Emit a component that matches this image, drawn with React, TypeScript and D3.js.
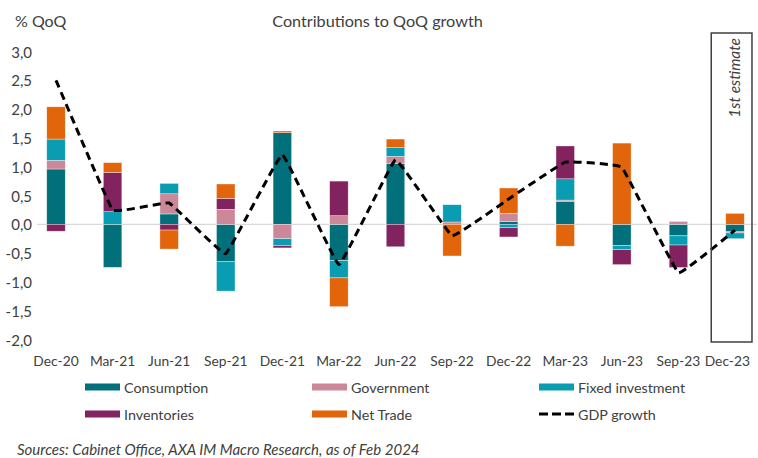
import React from "react";
import * as d3 from "d3";

const categories = ["Dec-20","Mar-21","Jun-21","Sep-21","Dec-21","Mar-22","Jun-22","Sep-22","Dec-22","Mar-23","Jun-23","Sep-23","Dec-23"];
const consumption = [0.96,-0.75,0.18,-0.65,1.59,-0.63,1.06,0.0,0.05,0.40,-0.37,-0.20,-0.13];
const government = [0.15,-0.01,0.35,0.26,-0.25,0.15,0.12,0.04,0.14,0.02,0.0,0.05,-0.02];
const fixedInvestment = [0.37,0.22,0.18,-0.51,-0.12,-0.30,0.15,0.30,-0.06,0.37,-0.07,-0.16,-0.10];
const inventories = [-0.12,0.68,-0.10,0.19,-0.04,0.60,-0.39,0.0,-0.16,0.57,-0.26,-0.39,0.0];
const netTrade = [0.56,0.17,-0.33,0.25,0.03,-0.50,0.15,-0.55,0.44,-0.38,1.41,0.0,0.19];
const gdpGrowth = [2.5,0.25,0.37,-0.51,1.21,-0.70,1.12,-0.20,0.44,1.08,0.99,-0.84,-0.10];
const yTicks = [3,2.5,2,1.5,1,0.5,0,-0.5,-1,-1.5,-2];

const seriesNames = ["Consumption","Government","Fixed investment","Inventories","Net Trade"];
const seriesValues = [consumption, government, fixedInvestment, inventories, netTrade];
const seriesColors = ["#02707B","#CC8799","#0A9DB2","#82225F","#E2650C"];

const W = 758, H = 458;
const FONT = "Lato, 'Open Sans', sans-serif";
const TXT = "#404040";

export default function App() {
  const x = d3.scalePoint<string>().domain(categories).range([56, 735]);
  const y = d3.scaleLinear().domain([-2, 3]).range([339.5, 51.5]);
  const step = x.step();
  const bw = 18.5;

  const rows = categories.map((c, i) => {
    const r: any = { cat: c };
    seriesNames.forEach((n, k) => (r[n] = seriesValues[k][i]));
    return r;
  });
  const stacked = d3.stack<any>().keys(seriesNames).offset(d3.stackOffsetDiverging)(rows);

  const line = d3
    .line<number>()
    .x((_, i) => x(categories[i]) as number)
    .y((d) => y(d))
    .curve(d3.curveCardinal.tension(0.82));

  const last = categories[categories.length - 1];
  const boxL = (x(last) as number) - step * 0.42;
  const boxR = (x(last) as number) + step * 0.3;
  const boxTop = y(3) - 18.5;
  const boxBot = y(-2) + 2.5;

  const fmt = (v: number) => d3.format(".1f")(v).replace(".", ",").replace("−", "-");

  const legend = [
    { name: "Consumption", color: seriesColors[0], type: "bar" },
    { name: "Government", color: seriesColors[1], type: "bar" },
    { name: "Fixed investment", color: seriesColors[2], type: "bar" },
    { name: "Inventories", color: seriesColors[3], type: "bar" },
    { name: "Net Trade", color: seriesColors[4], type: "bar" },
    { name: "GDP growth", color: "#000", type: "line" },
  ];
  const legX = [85, 312, 539];
  const legY = [387, 414];

  return (
    <svg width={W} height={H} style={{ position: "absolute", left: 0, top: 0, background: "#fff" }} fontFamily={FONT}>
      <text x={15} y={20} fontSize={16} fill={TXT} dominantBaseline="central">% QoQ</text>
      <text x={377.5} y={20} fontSize={16.2} fill={TXT} textAnchor="middle" dominantBaseline="central">Contributions to QoQ growth</text>

      {yTicks.map((t) => (
        <text key={t} x={32} y={y(t)} fontSize={15} fill={TXT} textAnchor="end" dominantBaseline="central">{fmt(t)}</text>
      ))}

      <line x1={37} x2={757} y1={y(0)} y2={y(0)} stroke="#D9D9D9" strokeWidth={1.2} />

      {stacked.map((s, k) => (
        <g key={s.key} fill={seriesColors[k]}>
          {s.map((d, i) => {
            const y0 = y(d[0]), y1 = y(d[1]);
            const h = Math.abs(y0 - y1);
            if (h < 0.01) return null;
            return (
              <rect key={i} x={(x(categories[i]) as number) - bw / 2} y={Math.min(y0, y1)} width={bw} height={h}
                stroke="#ffffff" strokeOpacity={0.6} strokeWidth={0.6} />
            );
          })}
        </g>
      ))}

      <path d={line(gdpGrowth) || ""} fill="none" stroke="#000" strokeWidth={3} strokeDasharray="8,5" />

      <rect x={boxL} y={boxTop} width={boxR - boxL} height={boxBot - boxTop} fill="none" stroke="#404040" strokeWidth={1.5} />
      <text transform={`translate(${(boxL + boxR) / 2 + 2},${boxTop + 5}) rotate(-90)`} fontSize={15.5} fontStyle="italic" fill={TXT} textAnchor="end" dominantBaseline="central">1st estimate</text>

      {categories.map((c, i) => {
        const isLast = i === categories.length - 1;
        return (
          <text key={c} x={isLast ? 750 : x(c)} y={360} fontSize={13.8} fill={TXT}
            textAnchor={isLast ? "end" : "middle"} dominantBaseline="central">{c}</text>
        );
      })}

      {legend.map((l, i) => {
        const lx = legX[i % 3];
        const ly = legY[Math.floor(i / 3)];
        return (
          <g key={l.name}>
            {l.type === "bar" ? (
              <rect x={lx} y={ly - 3.5} width={35} height={7} fill={l.color} />
            ) : (
              <line x1={lx} x2={lx + 35} y1={ly} y2={ly} stroke="#000" strokeWidth={3} strokeDasharray="9,4" />
            )}
            <text x={lx + 39} y={ly} fontSize={14.3} fill={TXT} dominantBaseline="central">{l.name}</text>
          </g>
        );
      })}

      <text x={17} y={449} fontSize={15} fontStyle="italic" fill={TXT} dominantBaseline="central">Sources: Cabinet Office, AXA IM Macro Research, as of Feb 2024</text>
    </svg>
  );
}
